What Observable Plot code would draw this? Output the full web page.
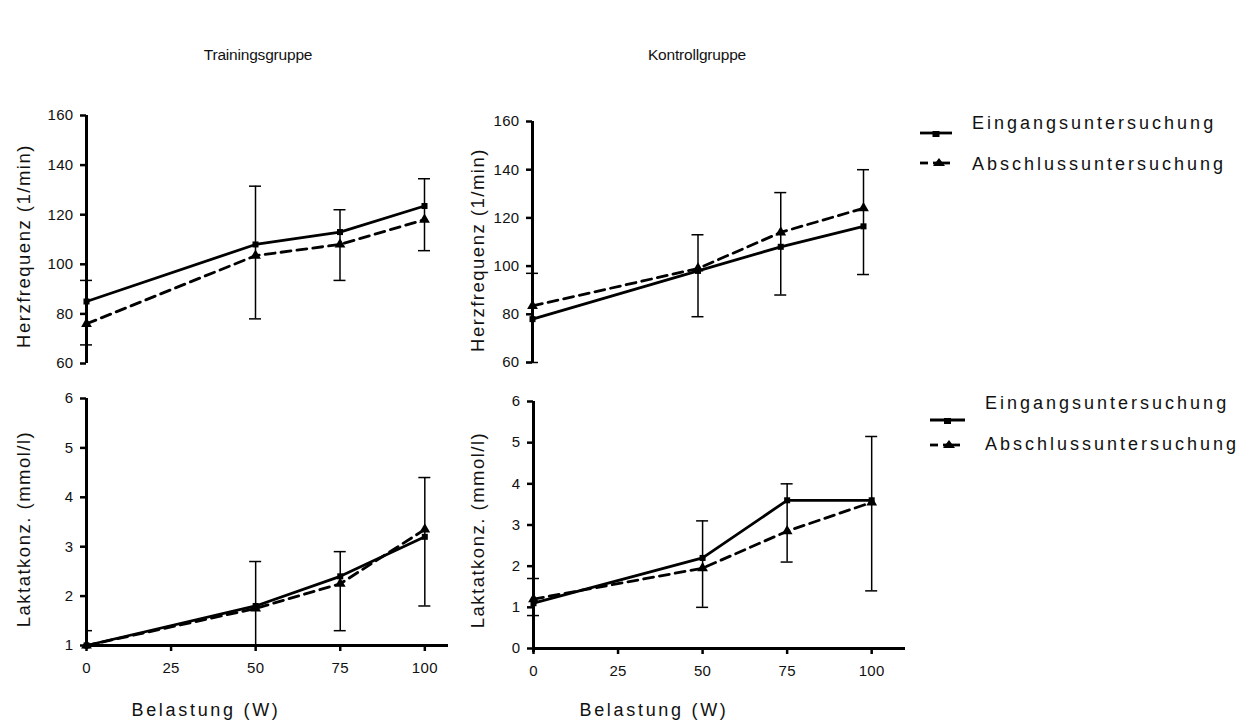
<!DOCTYPE html>
<html>
<head>
<meta charset="utf-8">
<script src="https://cdn.jsdelivr.net/npm/d3@7"></script>
<script src="https://cdn.jsdelivr.net/npm/@observablehq/plot@0.6"></script>
<style>
  html, body { margin: 0; padding: 0; background: #fff; }
  #root { position: relative; width: 1259px; height: 724px; overflow: hidden; font-family: "Liberation Sans", Arial, sans-serif; color: #000; }
  #root svg g[aria-label*="axis"] line,
  #root svg g[aria-label*="tick"] path { stroke-width: 2.5px; stroke: #000; }
  #root svg g[aria-label*="axis"] text,
  #root svg g[aria-label*="tick label"] text { font-size: 15px; fill: #111; letter-spacing: 0.3px; }
  .t { position: absolute; white-space: nowrap; color: #111; }
  .title { font-size: 15.5px; letter-spacing: -0.2px; transform: translate(-50%, -50%); }
  .xlab { font-size: 18px; letter-spacing: 2.7px; transform: translate(-50%, -50%); }
  .ylab { font-size: 18.5px; letter-spacing: 1.5px; transform: translate(-50%, -50%) rotate(-90deg); }
  .leg { font-size: 18px; letter-spacing: 3px; transform: translateY(-50%); }
  .sw { position: absolute; }
</style>
</head>
<body>
<div id="root"></div>
<script>
// ---- data ----
const loads = [0, 50, 75, 100];
const xTickValues = [0, 25, 50, 75, 100];
const hfTicks = [60, 80, 100, 120, 140, 160];
const lakTrainTicks = [1, 2, 3, 4, 5, 6];
const lakKontrTicks = [0, 1, 2, 3, 4, 5, 6];

const groupTitles = ["Trainingsgruppe", "Kontrollgruppe"];
const seriesNames = ["Eingangsuntersuchung", "Abschlussuntersuchung"];
const yTitles = ["Herzfrequenz (1/min)", "Laktatkonz. (mmol/l)"];
const xTitle = "Belastung (W)";

// Herzfrequenz, Trainingsgruppe
const hfTrainEin = [85, 108, 113, 123.5];
const hfTrainAbs = [76, 103.5, 108, 118];
const hfTrainErrLo = [67.5, 78, 93.5, 105.5];
const hfTrainErrHi = [93.5, 131.5, 122, 134.5];
// Herzfrequenz, Kontrollgruppe
const hfKontrEin = [78, 98, 108, 116.5];
const hfKontrAbs = [83.5, 99, 114, 124];
const hfKontrErrLo = [60, 79, 88, 96.5];
const hfKontrErrHi = [97, 113, 130.5, 140];
// Laktat, Trainingsgruppe
const lakTrainEin = [1.0, 1.8, 2.4, 3.2];
const lakTrainAbs = [1.0, 1.75, 2.25, 3.35];
const lakTrainErrLo = [0.7, 0.9, 1.3, 1.8];
const lakTrainErrHi = [1.3, 2.7, 2.9, 4.4];
// Laktat, Kontrollgruppe
const lakKontrEin = [1.1, 2.2, 3.6, 3.6];
const lakKontrAbs = [1.2, 1.95, 2.85, 3.55];
const lakKontrErrLo = [0.8, 1.0, 2.1, 1.4];
const lakKontrErrHi = [1.7, 3.1, 4.0, 5.15];

function rows(ein, abs, lo, hi) {
  return loads.map((x, i) => ({x, ein: ein[i], abs: abs[i], lo: lo[i], hi: hi[i]}));
}

const FONT = '"Liberation Sans", Arial, sans-serif';

function panel(o) {
  const data = o.data;
  const clip = !!o.clip;
  const marks = [
    Plot.ruleX(data, {x: "x", y1: "lo", y2: "hi", stroke: "#000", strokeWidth: 1.5, clip}),
    Plot.ruleY(data, {x1: "x", x2: "x", y: "hi", stroke: "#000", strokeWidth: 1.5, insetLeft: -6, insetRight: -6, clip}),
    Plot.ruleY(data, {x1: "x", x2: "x", y: "lo", stroke: "#000", strokeWidth: 1.5, insetLeft: -6, insetRight: -6, clip}),
    Plot.line(data, {x: "x", y: "abs", stroke: "#000", strokeWidth: 2.8, strokeDasharray: "10,6"}),
    Plot.line(data, {x: "x", y: "ein", stroke: "#000", strokeWidth: 2.8}),
    Plot.dot(data, {x: "x", y: "abs", symbol: "triangle", r: 4, fill: "#000"}),
    Plot.dot(data, {x: "x", y: "ein", symbol: "square", r: 3.4, fill: "#000"}),
    Plot.ruleX([0], {stroke: "#000", strokeWidth: 3, insetBottom: o.showX ? -4 : 0})
  ];
  if (o.showX) marks.push(Plot.ruleY([o.yDomain[0]], {stroke: "#000", strokeWidth: 3}));
  const svg = Plot.plot({
    width: o.width, height: o.height,
    marginLeft: o.ml, marginRight: o.mr, marginTop: o.mt, marginBottom: o.mb,
    style: {fontFamily: FONT, fontSize: "15px", color: "#000", background: "transparent", overflow: "visible"},
    x: {domain: o.xDomain, ticks: xTickValues, tickSize: 6, tickPadding: 11, label: null, axis: o.showX ? "bottom" : null, tickFormat: d3.format("d")},
    y: {domain: o.yDomain, ticks: o.yTicks, tickSize: 6, tickPadding: 7, label: null, tickFormat: d3.format("d")},
    marks
  });
  svg.style.position = "absolute";
  svg.style.left = o.left + "px";
  svg.style.top = o.top + "px";
  return svg;
}

const root = document.getElementById("root");

root.appendChild(panel({
  data: rows(hfTrainEin, hfTrainAbs, hfTrainErrLo, hfTrainErrHi),
  left: 0, top: 0, width: 470, height: 380, ml: 86, mr: 46, mt: 115, mb: 17,
  xDomain: [0, 100], yDomain: [60, 160], yTicks: hfTicks, showX: false
}));
root.appendChild(panel({
  data: rows(hfKontrEin, hfKontrAbs, hfKontrErrLo, hfKontrErrHi),
  left: 470, top: 0, width: 450, height: 380, ml: 62, mr: 57, mt: 121, mb: 18,
  xDomain: [0, 100], yDomain: [60, 160], yTicks: hfTicks, showX: false
}));
root.appendChild(panel({
  data: rows(lakTrainEin, lakTrainAbs, lakTrainErrLo, lakTrainErrHi),
  left: 0, top: 380, width: 470, height: 344, ml: 86, mr: 22, mt: 18, mb: 79,
  xDomain: [0, 107], yDomain: [1, 6], yTicks: lakTrainTicks, showX: true, clip: true
}));
root.appendChild(panel({
  data: rows(lakKontrEin, lakKontrAbs, lakKontrErrLo, lakKontrErrHi),
  left: 470, top: 380, width: 450, height: 344, ml: 63, mr: 15, mt: 21, mb: 76,
  xDomain: [0, 110], yDomain: [0, 6], yTicks: lakKontrTicks, showX: true
}));

function addText(cls, text, x, y) {
  const d = document.createElement("div");
  d.className = "t " + cls;
  d.textContent = text;
  d.style.left = x + "px";
  d.style.top = y + "px";
  root.appendChild(d);
}

addText("title", groupTitles[0], 258, 55);
addText("title", groupTitles[1], 697, 55);
addText("ylab", yTitles[0], 24, 246);
addText("ylab", yTitles[0], 478, 250);
addText("ylab", yTitles[1], 24, 529);
addText("ylab", yTitles[1], 478, 530);
addText("xlab", xTitle, 206, 710);
addText("xlab", xTitle, 654, 710);

// legends
function swatch(x, y, w, kind) {
  const s = document.createElementNS("http://www.w3.org/2000/svg", "svg");
  s.setAttribute("class", "sw");
  s.setAttribute("width", w);
  s.setAttribute("height", 16);
  s.style.left = x + "px";
  s.style.top = (y - 8) + "px";
  if (kind === "ein") {
    s.innerHTML = `<line x1="0" x2="${w}" y1="8" y2="8" stroke="#000" stroke-width="2.8"/>` +
      `<rect x="${w/2 - 3.5}" y="6" width="7" height="6" fill="#000"/>`;
  } else {
    s.innerHTML = `<line x1="0" x2="8" y1="8" y2="8" stroke="#000" stroke-width="2.8"/>` +
      `<line x1="13" x2="${w}" y1="8" y2="8" stroke="#000" stroke-width="2.8"/>` +
      `<path d="M${w/2 + 4},3 L${w/2 + 10},11 L${w/2 - 2},11 Z" fill="#000"/>`;
  }
  root.appendChild(s);
}
swatch(920, 133, 32, "ein");
swatch(920, 163, 30, "abs");
addText("leg", seriesNames[0], 972, 123);
addText("leg", seriesNames[1], 972, 164);

swatch(930, 420, 35, "ein");
swatch(930, 445, 30, "abs");
addText("leg", seriesNames[0], 985, 403);
addText("leg", seriesNames[1], 985, 444);
</script>
</body>
</html>
